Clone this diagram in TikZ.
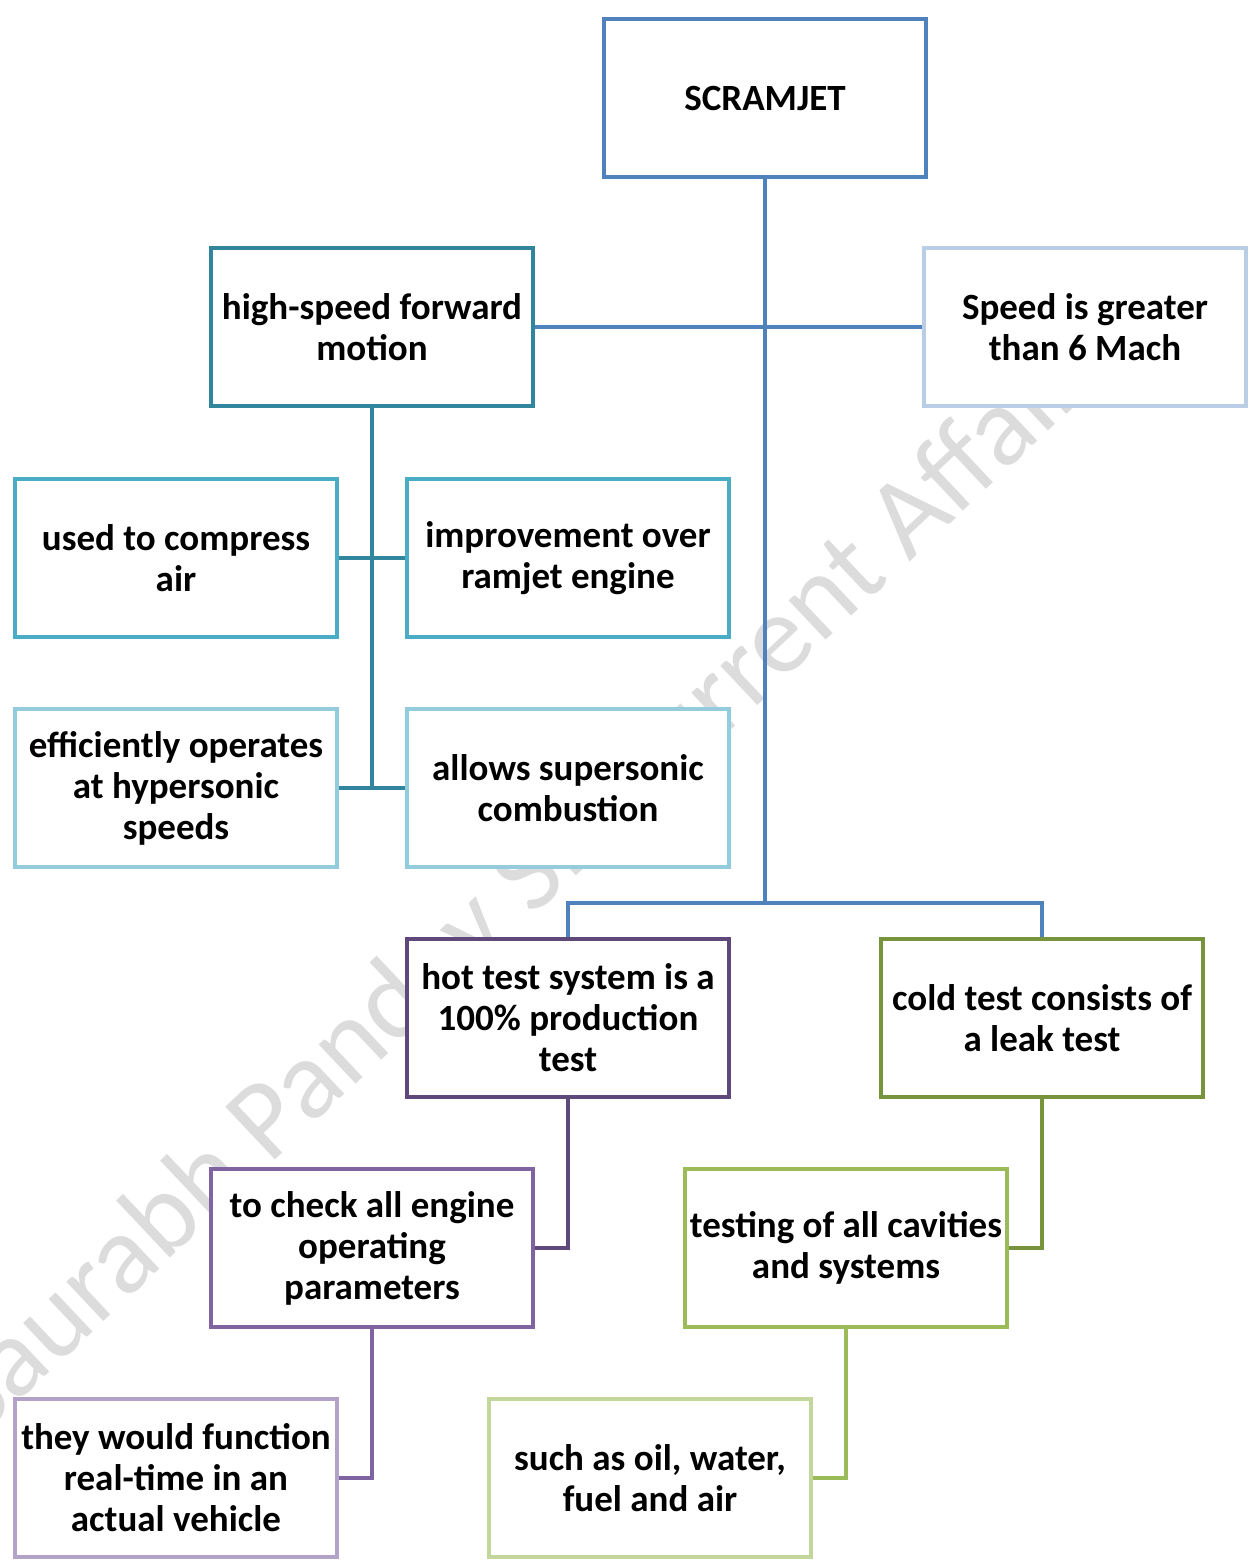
\documentclass[tikz,border=0pt]{standalone}
\usepackage{fontspec}
\setmainfont{Carlito}
\begin{document}
\begin{tikzpicture}[x=1pt,y=-1pt,
  box/.style={draw=#1, line width=4pt, fill=white, text=black, minimum width=322pt, minimum height=158pt, inner sep=0pt, align=center, font=\fontsize{37}{41}\selectfont\bfseries},
  conn/.style={line width=4pt, draw=#1}]
\definecolor{cBlue}{HTML}{4F81BD}
\definecolor{cBlueL}{HTML}{B9CDE5}
\definecolor{cTeal}{HTML}{31859C}
\definecolor{cAqua}{HTML}{4BACC6}
\definecolor{cAquaL}{HTML}{93CDDD}
\definecolor{cPurD}{HTML}{5F497A}
\definecolor{cPur}{HTML}{8064A2}
\definecolor{cPurL}{HTML}{B3A2C7}
\definecolor{cGrnD}{HTML}{77933C}
\definecolor{cGrn}{HTML}{9BBB59}
\definecolor{cGrnL}{HTML}{C3D69B}
\definecolor{cWm}{HTML}{DCDCDC}
\useasboundingbox (0,0) rectangle (1249,1564);
% watermark
\node[text=cWm, rotate=43.3, anchor=base west, inner sep=0pt, font=\fontsize{113}{113}\selectfont] (wm) at (-22,1440) {Saurabh Pandey Sir Current Affairs};
% boxes
\node[box=cBlue] (scr) at (765,98) {SCRAMJET};
\node[box=cTeal] (hs) at (372,327) {high-speed forward\\motion};
\node[box=cBlueL] (speed) at (1085,327) {Speed is greater\\than 6 Mach};
\node[box=cAqua] (comp) at (176,558) {used to compress\\air};
\node[box=cAqua] (impr) at (568,558) {improvement over\\ramjet engine};
\node[box=cAquaL] (eff) at (176,788) {efficiently operates\\at hypersonic\\speeds};
\node[box=cAquaL] (allow) at (568,788) {allows supersonic\\combustion};
\node[box=cPurD] (hot) at (568,1018) {hot test system is a\\100\% production\\test};
\node[box=cGrnD] (cold) at (1042,1018) {cold test consists of\\a leak test};
\node[box=cPur] (check) at (372,1248) {to check all engine\\operating\\parameters};
\node[box=cGrn] (cav) at (846,1248) {testing of all cavities\\and systems};
\node[box=cPurL] (they) at (176,1478) {they would function\\real-time in an\\actual vehicle};
\node[box=cGrnL] (such) at (650,1478) {such as oil, water,\\fuel and air};
% connectors
\coordinate (bus) at (765,903);
\coordinate (tealend) at (372,788);
\draw[conn=cBlue] (scr.south) -- (bus);
\draw[conn=cBlue] (hs.east) -- (speed.west);
\draw[conn=cBlue] (hot.north) |- (bus) -| (cold.north);
\draw[conn=cTeal] (hs.south) -- (tealend);
\draw[conn=cTeal] (comp.east) -- (impr.west);
\draw[conn=cTeal] (eff.east) -- (allow.west);
\draw[conn=cPurD] (hot.south) |- (check.east);
\draw[conn=cPur] (check.south) |- (they.east);
\draw[conn=cGrnD] (cold.south) |- (cav.east);
\draw[conn=cGrn] (cav.south) |- (such.east);
\end{tikzpicture}
\end{document}
